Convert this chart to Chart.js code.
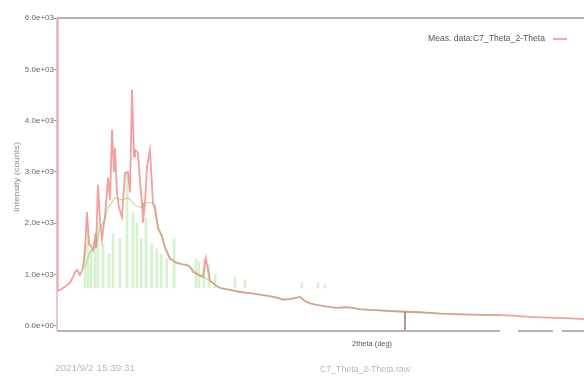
<!DOCTYPE html>
<html>
<head>
<meta charset="utf-8">
<script src="https://cdn.jsdelivr.net/npm/chart.js@4.4.1/dist/chart.umd.min.js"></script>
<style>
  html, body { margin: 0; padding: 0; background: #fff; }
  #c { display: block; }
</style>
</head>
<body>
<canvas id="c" width="584" height="390"></canvas>
<script>
// Measured pattern: 2theta (deg) and intensity (counts)
const measTheta = [5.00, 5.10, 5.48, 6.29, 7.10, 7.60, 7.90, 8.23, 8.71, 9.19, 9.52, 9.84, 10.16, 10.49, 10.81, 11.13, 11.29, 11.61, 11.94, 12.26, 12.58, 12.74, 13.23, 13.55, 13.87, 14.19, 14.35, 14.68, 15.00, 15.48, 15.97, 16.45, 16.77, 17.10, 17.42, 17.58, 18.06, 18.39, 18.71, 18.87, 19.19, 19.52, 20.00, 20.48, 20.81, 21.29, 21.94, 22.42, 23.23, 23.55, 24.03, 24.84, 25.32, 25.97, 26.45, 26.94, 27.74, 28.55, 29.00, 29.68, 30.48, 31.29, 32.90, 34.52, 36.13, 38.23, 40.16, 41.45, 42.58, 44.19, 45.00, 45.81, 46.94, 48.23, 50.16, 51.45, 52.74, 53.87, 55.48, 57.10, 58.71, 61.13, 63.55, 66.77, 70.00, 73.23, 76.45, 78.55, 81.29, 84.03, 86.94, 90.00];
const measCounts = [8000, 690, 700, 760, 840, 960, 1050, 1090, 990, 1130, 1480, 2220, 1600, 1560, 1480, 1700, 1520, 2750, 2050, 1680, 2000, 2120, 2890, 2460, 3820, 3000, 3470, 2590, 2300, 2120, 2980, 3000, 2600, 4600, 3300, 3430, 3370, 2800, 2400, 2010, 2400, 3100, 3430, 2390, 2320, 1900, 1740, 1520, 1300, 1290, 1240, 1210, 1200, 1190, 1150, 1050, 1000, 960, 1320, 880, 800, 740, 700, 660, 640, 600, 560, 510, 520, 565, 480, 440, 410, 380, 350, 370, 350, 320, 310, 300, 290, 275, 265, 240, 225, 215, 210, 200, 175, 160, 150, 130];

// Calculated profile
const calcTheta = [9.52, 10.16, 10.65, 11.29, 11.94, 12.58, 13.23, 14.35, 15.48, 16.45, 17.58, 18.71, 19.19, 20.00, 20.48, 21.29, 21.94, 22.42, 23.23, 24.03, 25.32, 26.45, 27.74, 28.55, 29.68, 30.48, 31.29, 32.90, 34.52, 36.13, 38.23, 40.16, 41.45, 42.58, 44.19, 45.81, 46.94, 48.23, 50.16, 52.74, 55.48, 58.71, 61.13, 66.77, 70.00, 73.23, 76.45];
const calcCounts = [1150, 1400, 1480, 1560, 1900, 2050, 2300, 2500, 2450, 2500, 2350, 2300, 2400, 2400, 2380, 1950, 1740, 1560, 1320, 1250, 1200, 1150, 1000, 960, 880, 800, 740, 700, 660, 640, 600, 560, 510, 520, 560, 440, 410, 380, 350, 345, 310, 290, 275, 245, 230, 220, 210];

// Peak sticks: position, drawn from a common base level up to the top value
const stickTheta = [9.52, 10.00, 10.49, 11.13, 11.61, 12.42, 13.39, 14.03, 15.16, 16.30, 17.26, 17.90, 18.60, 19.35, 20.30, 21.10, 21.80, 22.70, 23.90, 27.40, 27.90, 28.70, 29.50, 30.50, 33.70, 35.30, 44.50, 47.10, 48.20];
const stickTop = [1600, 1900, 1500, 1800, 2000, 1600, 1400, 1800, 1700, 3000, 2200, 2000, 1700, 2100, 1600, 1500, 1400, 1300, 1700, 1300, 1250, 1300, 1200, 1000, 950, 900, 850, 850, 800];
const stickBase = 740;

// Marker position
const markerTheta = 61.13;
const markerTop = 275;

// Axis ticks
const yTicks = [0, 1000, 2000, 3000, 4000, 5000, 6000];
const yMin = -100, yMax = 6000;
const xMin = 5, xMax = 90;

// Text
const legendText = 'Meas. data:C7_Theta_2-Theta';
const yTitle = 'Intensity (counts)';
const xTitle = '2theta (deg)';
const stampText = '2021/9/2 15:39:31';
const fileText = 'C7_Theta_2-Theta.raw';

const toXY = (xs, ys) => xs.map((x, i) => ({ x: x, y: ys[i] }));

function fmtSci(v) {
  const s = v.toExponential(1);
  const [m, e] = s.split('e');
  const sign = e[0] === '-' ? '-' : '+';
  const digits = e.replace(/[+-]/, '').padStart(2, '0');
  return m + 'e' + sign + digits;
}

// Text drawn squeezed to a given width
function fitText(ctx, text, x, y, w, font, color, align) {
  ctx.save();
  ctx.font = font;
  ctx.fillStyle = color;
  ctx.textBaseline = 'middle';
  ctx.textAlign = 'left';
  const m = ctx.measureText(text).width;
  const k = w / m;
  let x0 = x;
  if (align === 'center') x0 = x - w / 2;
  else if (align === 'right') x0 = x - w;
  ctx.translate(x0, y);
  ctx.scale(k, 1);
  ctx.fillText(text, 0, 0);
  ctx.restore();
}

const frame = {
  id: 'frame',
  afterDatasetsDraw(chart) {
    const { ctx, chartArea: a } = chart;
    ctx.save();
    ctx.lineWidth = 2;
    ctx.strokeStyle = '#b4b4b4';
    // top edge
    ctx.beginPath();
    ctx.moveTo(a.left, a.top);
    ctx.lineTo(a.right, a.top);
    ctx.stroke();
    // bottom edge, solid then dashed near the end
    ctx.beginPath();
    ctx.moveTo(a.left, a.bottom);
    ctx.lineTo(a.left + 443, a.bottom);
    ctx.moveTo(a.left + 461, a.bottom);
    ctx.lineTo(a.left + 496, a.bottom);
    ctx.moveTo(a.left + 505, a.bottom);
    ctx.lineTo(a.right, a.bottom);
    ctx.stroke();
    // left edge
    ctx.strokeStyle = 'rgba(220,175,180,0.9)';
    ctx.lineWidth = 1.5;
    ctx.beginPath();
    ctx.moveTo(a.left, a.top);
    ctx.lineTo(a.left, a.bottom);
    ctx.stroke();
    ctx.restore();
  },
  afterDraw(chart) {
    const { ctx } = chart;
    // legend
    fitText(ctx, legendText, 428, 39, 117, '9px "Liberation Sans Narrow", "Liberation Sans", sans-serif', '#555', 'left');
    ctx.save();
    ctx.strokeStyle = 'rgba(240,130,130,0.9)';
    ctx.lineWidth = 1.5;
    ctx.beginPath();
    ctx.moveTo(553, 39);
    ctx.lineTo(567, 39);
    ctx.stroke();
    ctx.restore();
    // axis titles
    ctx.save();
    ctx.translate(17, 177);
    ctx.rotate(-Math.PI / 2);
    fitText(ctx, yTitle, 0, 0, 70, '8px "Liberation Sans Narrow", "Liberation Sans", sans-serif', '#8a8a8a', 'center');
    ctx.restore();
    fitText(ctx, xTitle, 372, 344, 40, '8px "Liberation Sans Narrow", "Liberation Sans", sans-serif', '#555', 'center');
    // footer
    fitText(ctx, stampText, 55, 369, 80, '9px "Liberation Sans Narrow", "Liberation Sans", sans-serif', '#b8b8b8', 'left');
    fitText(ctx, fileText, 320, 370, 90, '9px "Liberation Sans Narrow", "Liberation Sans", sans-serif', '#b8b8b8', 'left');
  }
};

new Chart(document.getElementById('c'), {
  type: 'scatter',
  data: {
    datasets: [
      {
        type: 'bar',
        label: 'peaks',
        data: stickTheta.map((x, i) => ({ x: x, y: [stickBase, stickTop[i]] })),
        backgroundColor: 'rgba(170,232,155,0.5)',
        borderWidth: 0,
        barThickness: 2,
        order: 4
      },
      {
        type: 'line',
        label: legendText,
        data: toXY(measTheta, measCounts),
        borderColor: 'rgba(240,135,135,0.8)',
        borderWidth: 1.8,
        pointRadius: 0,
        tension: 0,
        order: 3
      },
      {
        type: 'line',
        label: 'calc',
        data: toXY(calcTheta, calcCounts),
        borderColor: 'rgba(140,185,90,0.45)',
        borderWidth: 1.3,
        pointRadius: 0,
        tension: 0,
        order: 2
      },
      {
        type: 'line',
        label: 'marker',
        data: [{ x: markerTheta, y: markerTop }, { x: markerTheta, y: yMin }],
        borderColor: 'rgb(150,80,60)',
        borderWidth: 1.2,
        pointRadius: 0,
        order: 1
      }
    ]
  },
  options: {
    responsive: false,
    animation: false,
    devicePixelRatio: 1,
    layout: { padding: { top: 18, right: 0, bottom: 0, left: 0 } },
    plugins: { legend: { display: false }, tooltip: { enabled: false } },
    scales: {
      x: {
        type: 'linear',
        min: xMin,
        max: xMax,
        offset: false,
        grid: { display: false },
        border: { display: false },
        ticks: { display: false },
        afterFit(scale) { scale.height = 59; }
      },
      y: {
        type: 'linear',
        min: yMin,
        max: yMax,
        grid: { display: true, drawOnChartArea: false, drawTicks: true, tickLength: 3, color: '#999', lineWidth: 1 },
        border: { display: false },
        afterBuildTicks(scale) { scale.ticks = yTicks.map(v => ({ value: v })); },
        ticks: {
          padding: 0,
          color: '#666',
          font: { family: '"Liberation Sans Narrow", "Liberation Sans", sans-serif', size: 8 },
          callback: (v) => fmtSci(v)
        },
        afterFit(scale) { scale.width = 57; }
      }
    }
  },
  plugins: [frame]
});
</script>
</body>
</html>
